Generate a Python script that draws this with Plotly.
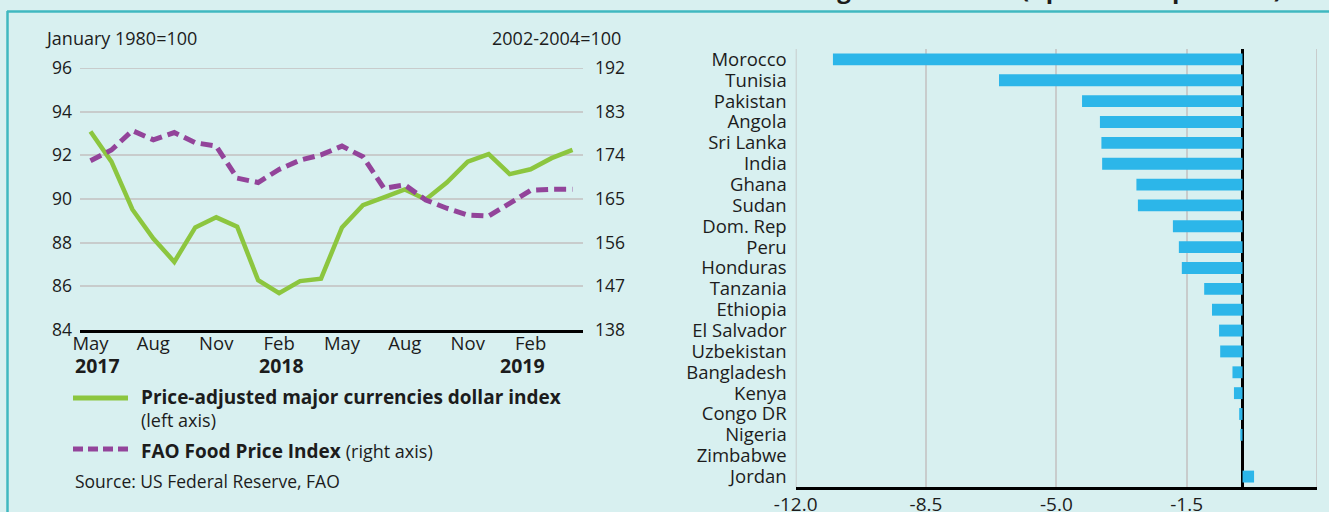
import plotly.graph_objects as go

W, H = 1329, 512

# ---- left panel: monthly indices, May 2017 - April 2019 ----
months = ['2017-05', '2017-06', '2017-07', '2017-08', '2017-09', '2017-10',
          '2017-11', '2017-12', '2018-01', '2018-02', '2018-03', '2018-04',
          '2018-05', '2018-06', '2018-07', '2018-08', '2018-09', '2018-10',
          '2018-11', '2018-12', '2019-01', '2019-02', '2019-03', '2019-04']
dollar_index = [93.09, 91.71, 89.52, 88.19, 87.12, 88.70, 89.16, 88.73,
                86.28, 85.69, 86.24, 86.35, 88.70, 89.72, 90.07, 90.44,
                89.98, 90.75, 91.71, 92.06, 91.14, 91.36, 91.87, 92.25]
fao_index = [172.9, 175.1, 179.1, 177.2, 178.7, 176.6, 175.9, 169.3,
             168.4, 171.1, 173.0, 174.1, 175.9, 173.7, 167.2, 167.9,
             164.8, 163.1, 161.7, 161.5, 164.1, 166.8, 167.0, 167.0]
tick_months = ['2017-05', '2017-08', '2017-11', '2018-02',
               '2018-05', '2018-08', '2018-11', '2019-02']
tick_text = ['May', 'Aug', 'Nov', 'Feb', 'May', 'Aug', 'Nov', 'Feb']
year_months = ['2017-05', '2018-02', '2019-02']
year_text = ['2017', '2018', '2019']
left_ticks = [84, 86, 88, 90, 92, 94, 96]
right_ticks = [138, 147, 156, 165, 174, 183, 192]

# ---- right panel: change by country ----
countries = ['Morocco', 'Tunisia', 'Pakistan', 'Angola', 'Sri Lanka', 'India',
             'Ghana', 'Sudan', 'Dom. Rep', 'Peru', 'Honduras', 'Tanzania',
             'Ethiopia', 'El Salvador', 'Uzbekistan', 'Bangladesh', 'Kenya',
             'Congo DR', 'Nigeria', 'Zimbabwe', 'Jordan']
change = [-11.0, -6.54, -4.31, -3.83, -3.79, -3.77, -2.85, -2.81, -1.87,
          -1.71, -1.63, -1.03, -0.82, -0.63, -0.60, -0.27, -0.23, -0.09,
          -0.06, 0.0, 0.31]
bar_ticks = [-12.0, -8.5, -5.0, -1.5, 2.0]

BG = '#d8f0f0'
TXT = '#1c1c1c'
GRID = '#c8cccc'
GREEN = '#8cc63f'
PURPLE = '#93449a'
BLUE = '#2cb6e9'
TEAL = '#40b8c0'
FONT = 'Open Sans'


def px(x):
    return x / W


def py(y):
    return 1 - y / H


fig = go.Figure()

fig.add_trace(go.Scatter(
    x=months, y=dollar_index, mode='lines',
    line=dict(color=GREEN, width=4.5), xaxis='x', yaxis='y',
    showlegend=False))
fig.add_trace(go.Scatter(
    x=months, y=fao_index, mode='lines',
    line=dict(color=PURPLE, width=5, dash='12px,6px'), xaxis='x', yaxis='y2',
    showlegend=False))
fig.add_trace(go.Bar(
    x=change, y=countries, orientation='h', width=0.57,
    marker=dict(color=BLUE, line=dict(width=0)),
    xaxis='x2', yaxis='y3', showlegend=False))

fig.update_layout(
    width=W, height=H, autosize=False,
    margin=dict(l=0, r=0, t=0, b=0, autoexpand=False),
    paper_bgcolor=BG, plot_bgcolor=BG,
    font=dict(family=FONT, color=TXT, size=17),
    showlegend=False,
    xaxis=dict(
        domain=[px(80), px(583)], anchor='y', type='category',
        categoryorder='array', categoryarray=months, range=[-0.5, 23.5],
        tickmode='array', tickvals=tick_months, ticktext=tick_text,
        tickfont=dict(size=18.5), showgrid=False, zeroline=False,
        showline=True, linecolor='black', linewidth=3, ticks='',
        ticklabelstandoff=-5, automargin=False),
    yaxis=dict(
        domain=[py(330), py(68)], anchor='x', range=[84, 96],
        tickmode='array', tickvals=left_ticks, tickfont=dict(size=17.5),
        showgrid=True, gridcolor=GRID, gridwidth=2, zeroline=False,
        showline=False, ticks='', ticklabelstandoff=7, automargin=False),
    yaxis2=dict(
        overlaying='y', side='right', anchor='x', range=[138, 192],
        tickmode='array', tickvals=right_ticks, tickfont=dict(size=17.5),
        showgrid=False, zeroline=False, showline=False, ticks='',
        ticklabelstandoff=11, automargin=False),
    xaxis2=dict(
        domain=[px(795.7), px(1317)], anchor='y3', range=[-12, 2],
        tickmode='array', tickvals=bar_ticks,
        ticktext=['%.1f' % v for v in bar_ticks], tickfont=dict(size=19),
        showgrid=True, gridcolor=GRID, gridwidth=2,
        zeroline=True, zerolinecolor='black', zerolinewidth=2.5,
        showline=True, linecolor='black', linewidth=3, ticks='',
        ticklabelstandoff=-2, automargin=False),
    yaxis3=dict(
        domain=[py(487), py(49)], anchor='x2', type='category',
        categoryorder='array', categoryarray=countries, range=[20.5, -0.5],
        tickmode='array', tickvals=countries,
        tickfont=dict(size=18.5), showgrid=False, zeroline=False,
        showline=False, ticks='', ticklabelstandoff=8, automargin=False),
)

shapes = [
    # panel frame
    dict(type='line', xref='paper', yref='paper', x0=px(7), x1=1,
         y0=py(11.5), y1=py(11.5), line=dict(color=TEAL, width=2.5)),
    dict(type='line', xref='paper', yref='paper', x0=px(7.5), x1=px(7.5),
         y0=py(11), y1=0, line=dict(color=TEAL, width=2.5)),
    # legend keys
    dict(type='line', xref='paper', yref='paper', x0=px(73), x1=px(128),
         y0=py(398), y1=py(398), line=dict(color=GREEN, width=5)),
    dict(type='line', xref='paper', yref='paper', x0=px(73), x1=px(128),
         y0=py(449), y1=py(449), line=dict(color=PURPLE, width=5,
                                           dash='10px,5px')),
    # top grid line of the left panel
    dict(type='line', xref='x domain', yref='y', x0=0, x1=1,
         y0=left_ticks[-1], y1=left_ticks[-1],
         line=dict(color=GRID, width=2), layer='below'),
]
# edge grid lines of the bar panel
for v in (bar_ticks[0], bar_ticks[-1]):
    shapes.append(dict(type='line', xref='x2', yref='y3 domain', x0=v, x1=v,
                       y0=0, y1=1, line=dict(color=GRID, width=2),
                       layer='below'))


def note(text, x, y, anchor='left', size=17, yanchor='middle'):
    return dict(text=text, xref='paper', yref='paper', x=px(x), y=py(y),
                xanchor=anchor, yanchor=yanchor, showarrow=False,
                font=dict(size=size, color=TXT, family=FONT), borderpad=0)


annotations = [
    # heading of the bar panel, running off the top edge
    note('<b>Percentage devaluation (April 2018-April 2019)</b>', 1283, 6,
         anchor='right', size=24, yanchor='bottom'),
    note('January 1980=100', 44, 38, size=18),
    note('2002-2004=100', 622, 38, anchor='right', size=18),
    note('<b>Price-adjusted major currencies dollar index</b>', 140, 397,
         size=19),
    note('(left axis)', 140, 420, size=18),
    note('<b>FAO Food Price Index</b> <span style="font-size:18px">'
         '(right axis)</span>', 140, 451, size=19),
    note('Source: US Federal Reserve, FAO', 74, 481, size=17.5),
]
# year labels under the month ticks
for m, t, dx in zip(year_months, year_text, (7, 2, -8)):
    annotations.append(dict(text='<b>%s</b>' % t, xref='x', yref='paper',
                            x=m, y=py(365), xshift=dx, xanchor='center',
                            yanchor='middle', showarrow=False, borderpad=0,
                            font=dict(size=19.5, color=TXT, family=FONT)))

fig.update_layout(shapes=shapes, annotations=annotations)

fig.write_html('out.html')
